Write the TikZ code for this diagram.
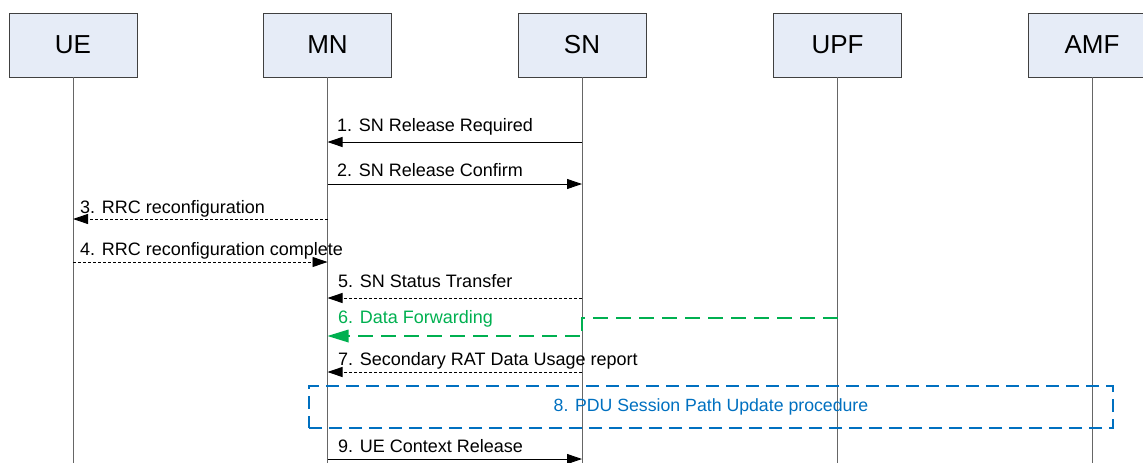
\documentclass[tikz,border=0pt]{standalone}
\usepackage{fontspec}
\setmainfont{Liberation Sans}
\usetikzlibrary{arrows.meta,calc}
\definecolor{boxfill}{HTML}{E6ECF7}
\definecolor{boxline}{HTML}{404040}
\definecolor{fwdgreen}{HTML}{00B050}
\definecolor{procblue}{HTML}{0070C0}
\tikzset{
  entity/.style={draw=boxline, fill=boxfill, line width=0.9pt, minimum width=128pt, minimum height=64pt, inner sep=0pt, font=\fontsize{26}{30}\selectfont},
  lifeline/.style={draw=gray!80!black, line width=1pt},
  msg/.style={line width=0.9pt, -{Triangle[length=15pt,width=10pt]}},
  dmsg/.style={msg, dash pattern=on 3pt off 2pt},
  gmsg/.style={draw=fwdgreen, line width=1.2pt, dash pattern=on 15pt off 8pt},
  lbl/.style={anchor=base west, inner sep=0pt, font=\fontsize{18}{21}\selectfont},
}
\begin{document}
\begin{tikzpicture}[x=1pt,y=-1pt]
\useasboundingbox (0,0) rectangle (1143,463);
\node[entity] (UE)  at (73,45)   {UE};
\node[entity] (MN)  at (327.5,45) {MN};
\node[entity] (SN)  at (582,45)  {SN};
\node[entity] (UPF) at (837.5,45) {UPF};
\node[entity] (AMF) at (1092,45) {AMF};
\foreach \n in {UE,MN,SN,UPF,AMF}{
  \coordinate (\n end) at (\n.south |- 0,463);
  \draw[lifeline] (\n.south) -- (\n end);
}
% 1
\coordinate (sn1) at (SN.south |- 0,142); \coordinate (mn1) at (MN.south |- 0,142);
\draw[msg] (sn1) -- (mn1);
\node[lbl] (l1) at (337,131) {1. SN Release Required};
% 2
\coordinate (mn2) at (MN.south |- 0,184); \coordinate (sn2) at (SN.south |- 0,184);
\draw[msg] (mn2) -- (sn2);
\node[lbl] (l2) at (337,176) {2. SN Release Confirm};
% 3
\coordinate (mn3) at (MN.south |- 0,219); \coordinate (ue3) at (UE.south |- 0,219);
\draw[dmsg] (mn3) -- (ue3);
\node[lbl] (l3) at (80,213) {3. RRC reconfiguration};
% 4
\coordinate (ue4) at (UE.south |- 0,262); \coordinate (mn4) at (MN.south |- 0,262);
\draw[dmsg] (ue4) -- (mn4);
\node[lbl] (l4) at (80,255) {4. RRC reconfiguration complete};
% 5
\coordinate (sn5) at (SN.south |- 0,298); \coordinate (mn5) at (MN.south |- 0,298);
\draw[dmsg] (sn5) -- (mn5);
\node[lbl] (l5) at (338,287) {5. SN Status Transfer};
% 6
\coordinate (upf6) at (UPF.south |- 0,318); \coordinate (sn6a) at (SN.south |- 0,318);
\coordinate (sn6b) at (SN.south |- 0,336); \coordinate (mn6) at (MN.south |- 0,336);
\draw[gmsg] (upf6) -- (sn6a) -- (sn6b) -- ($(mn6)+(15,0)$);
\draw[draw=none, fill=fwdgreen] (mn6) -- ++(21,-6.5) -- ++(0,13) -- cycle;
\node[lbl, text=fwdgreen] (l6) at (338,323) {6. Data Forwarding};
% 7
\coordinate (sn7) at (SN.south |- 0,372); \coordinate (mn7) at (MN.south |- 0,372);
\draw[dmsg] (sn7) -- (mn7);
\node[lbl] (l7) at (338,365) {7. Secondary RAT Data Usage report};
% 8
\node[draw=procblue, line width=1.2pt, dash pattern=on 13pt off 7pt, fill=none, minimum width=804pt, minimum height=42pt, inner sep=0pt, text=procblue, font=\fontsize{17.7}{20}\selectfont] (proc) at (711,407) {8. PDU Session Path Update procedure};
% 9
\coordinate (mn9) at (MN.south |- 0,459); \coordinate (sn9) at (SN.south |- 0,459);
\draw[msg] (mn9) -- (sn9);
\node[lbl] (l9) at (338,452) {9. UE Context Release};
\end{tikzpicture}
\end{document}
